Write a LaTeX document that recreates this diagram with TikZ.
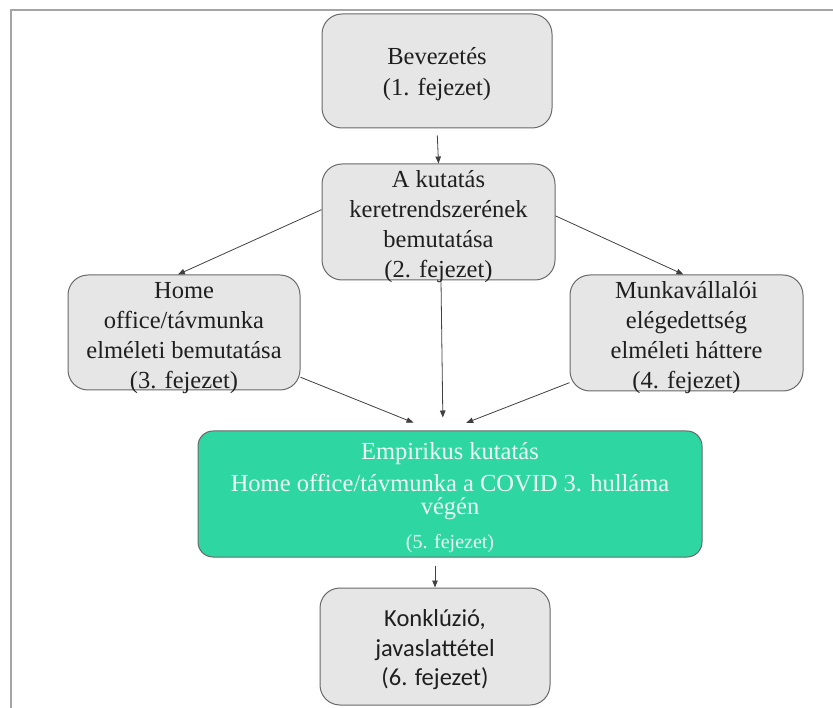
\documentclass[tikz,border=0pt]{standalone}
\usepackage{fontspec}
\setmainfont{Liberation Serif}
\newfontfamily\calibrilike{Carlito}
\usetikzlibrary{arrows.meta}

\definecolor{boxgray}{RGB}{230,230,230}
\definecolor{edgegray}{RGB}{105,105,105}
\definecolor{chapgreen}{RGB}{46,214,161}
\definecolor{paletext}{RGB}{238,251,245}
\definecolor{framegray}{RGB}{165,165,165}

% fixed room above the first and below the last text line of a box
\newcommand{\boxtopgap}[1][30pt]{\rule{0pt}{#1}}
\newcommand{\boxbotgap}{\rule[-8pt]{0pt}{0pt}}

\begin{document}
\begin{tikzpicture}[x=1pt,y=-1pt,
  chapter/.style={draw=edgegray, line width=1pt, fill=boxgray,
    rounded corners=20pt, align=center, inner xsep=0pt, inner ysep=-10pt,
    font=\fontsize{24.5}{30}\selectfont, text=black!88},
  empirical/.style={chapter, fill=chapgreen, rounded corners=15pt,
    text=paletext, font=\fontsize{24.5}{32}\selectfont},
  flow/.style={draw=black!75, line width=0.8pt,
    -{Triangle[length=7pt,width=5.5pt]}}]
\useasboundingbox (0,0) rectangle (833,708);

% page frame
\draw[framegray, line width=1.5pt] (833,10) -- (11,10) -- (11,708);

% chapter boxes
\node[chapter, minimum width=230pt, minimum height=114pt,
  font=\fontsize{24.5}{31}\selectfont] (b1) at (437,71)
  {\boxtopgap[27pt]Bevezetés\\(1. fejezet)\boxbotgap};
\node[chapter, minimum width=233pt, minimum height=116pt] (b2) at (438.5,222)
  {\boxtopgap A kutatás\\keretrendszerének\\bemutatása\\(2. fejezet)\boxbotgap};
\node[chapter, minimum width=232pt, minimum height=115pt] (b3) at (184,332.5)
  {\boxtopgap Home\\office/távmunka\\elméleti bemutatása\\(3. fejezet)\boxbotgap};
\node[chapter, minimum width=233pt, minimum height=116pt] (b4) at (686.5,333)
  {\boxtopgap Munkavállalói\\elégedettség\\elméleti háttere\\(4. fejezet)\boxbotgap};
\node[empirical, minimum width=504pt, minimum height=126pt] (b5) at (450,494)
  {\boxtopgap[27pt]Empirikus kutatás\\
   Home office/távmunka a COVID 3. hulláma\\[-9pt]
   végén\\[2pt]
   {\fontsize{20}{32}\selectfont (5. fejezet)}\boxbotgap};
\node[chapter, minimum width=230pt, minimum height=117pt,
  font=\calibrilike\fontsize{24.5}{29.5}\selectfont] (b6) at (435,646.5)
  {\boxtopgap[27pt]Konklúzió,\\javaslattétel\\(6. fejezet)\boxbotgap};

% connectors
\draw[flow, shorten <=7pt] (b1.south) -- (b2.north);
\draw[flow] (b2.174) -- (b3.96);
\draw[flow] (b2.3) -- (b4.93);
\draw[flow, shorten >=13pt] ([xshift=2.5pt]b2.south) -- ([xshift=-7pt]b5.north);
\draw[flow, shorten >=21pt] (b3.-21) -- (b5.105);
\draw[flow, shorten >=21pt] (b4.203) -- (b5.93);
\draw[flow, shorten <=8pt] (b5.south -| b6.north) -- (b6.north);
\end{tikzpicture}
\end{document}
